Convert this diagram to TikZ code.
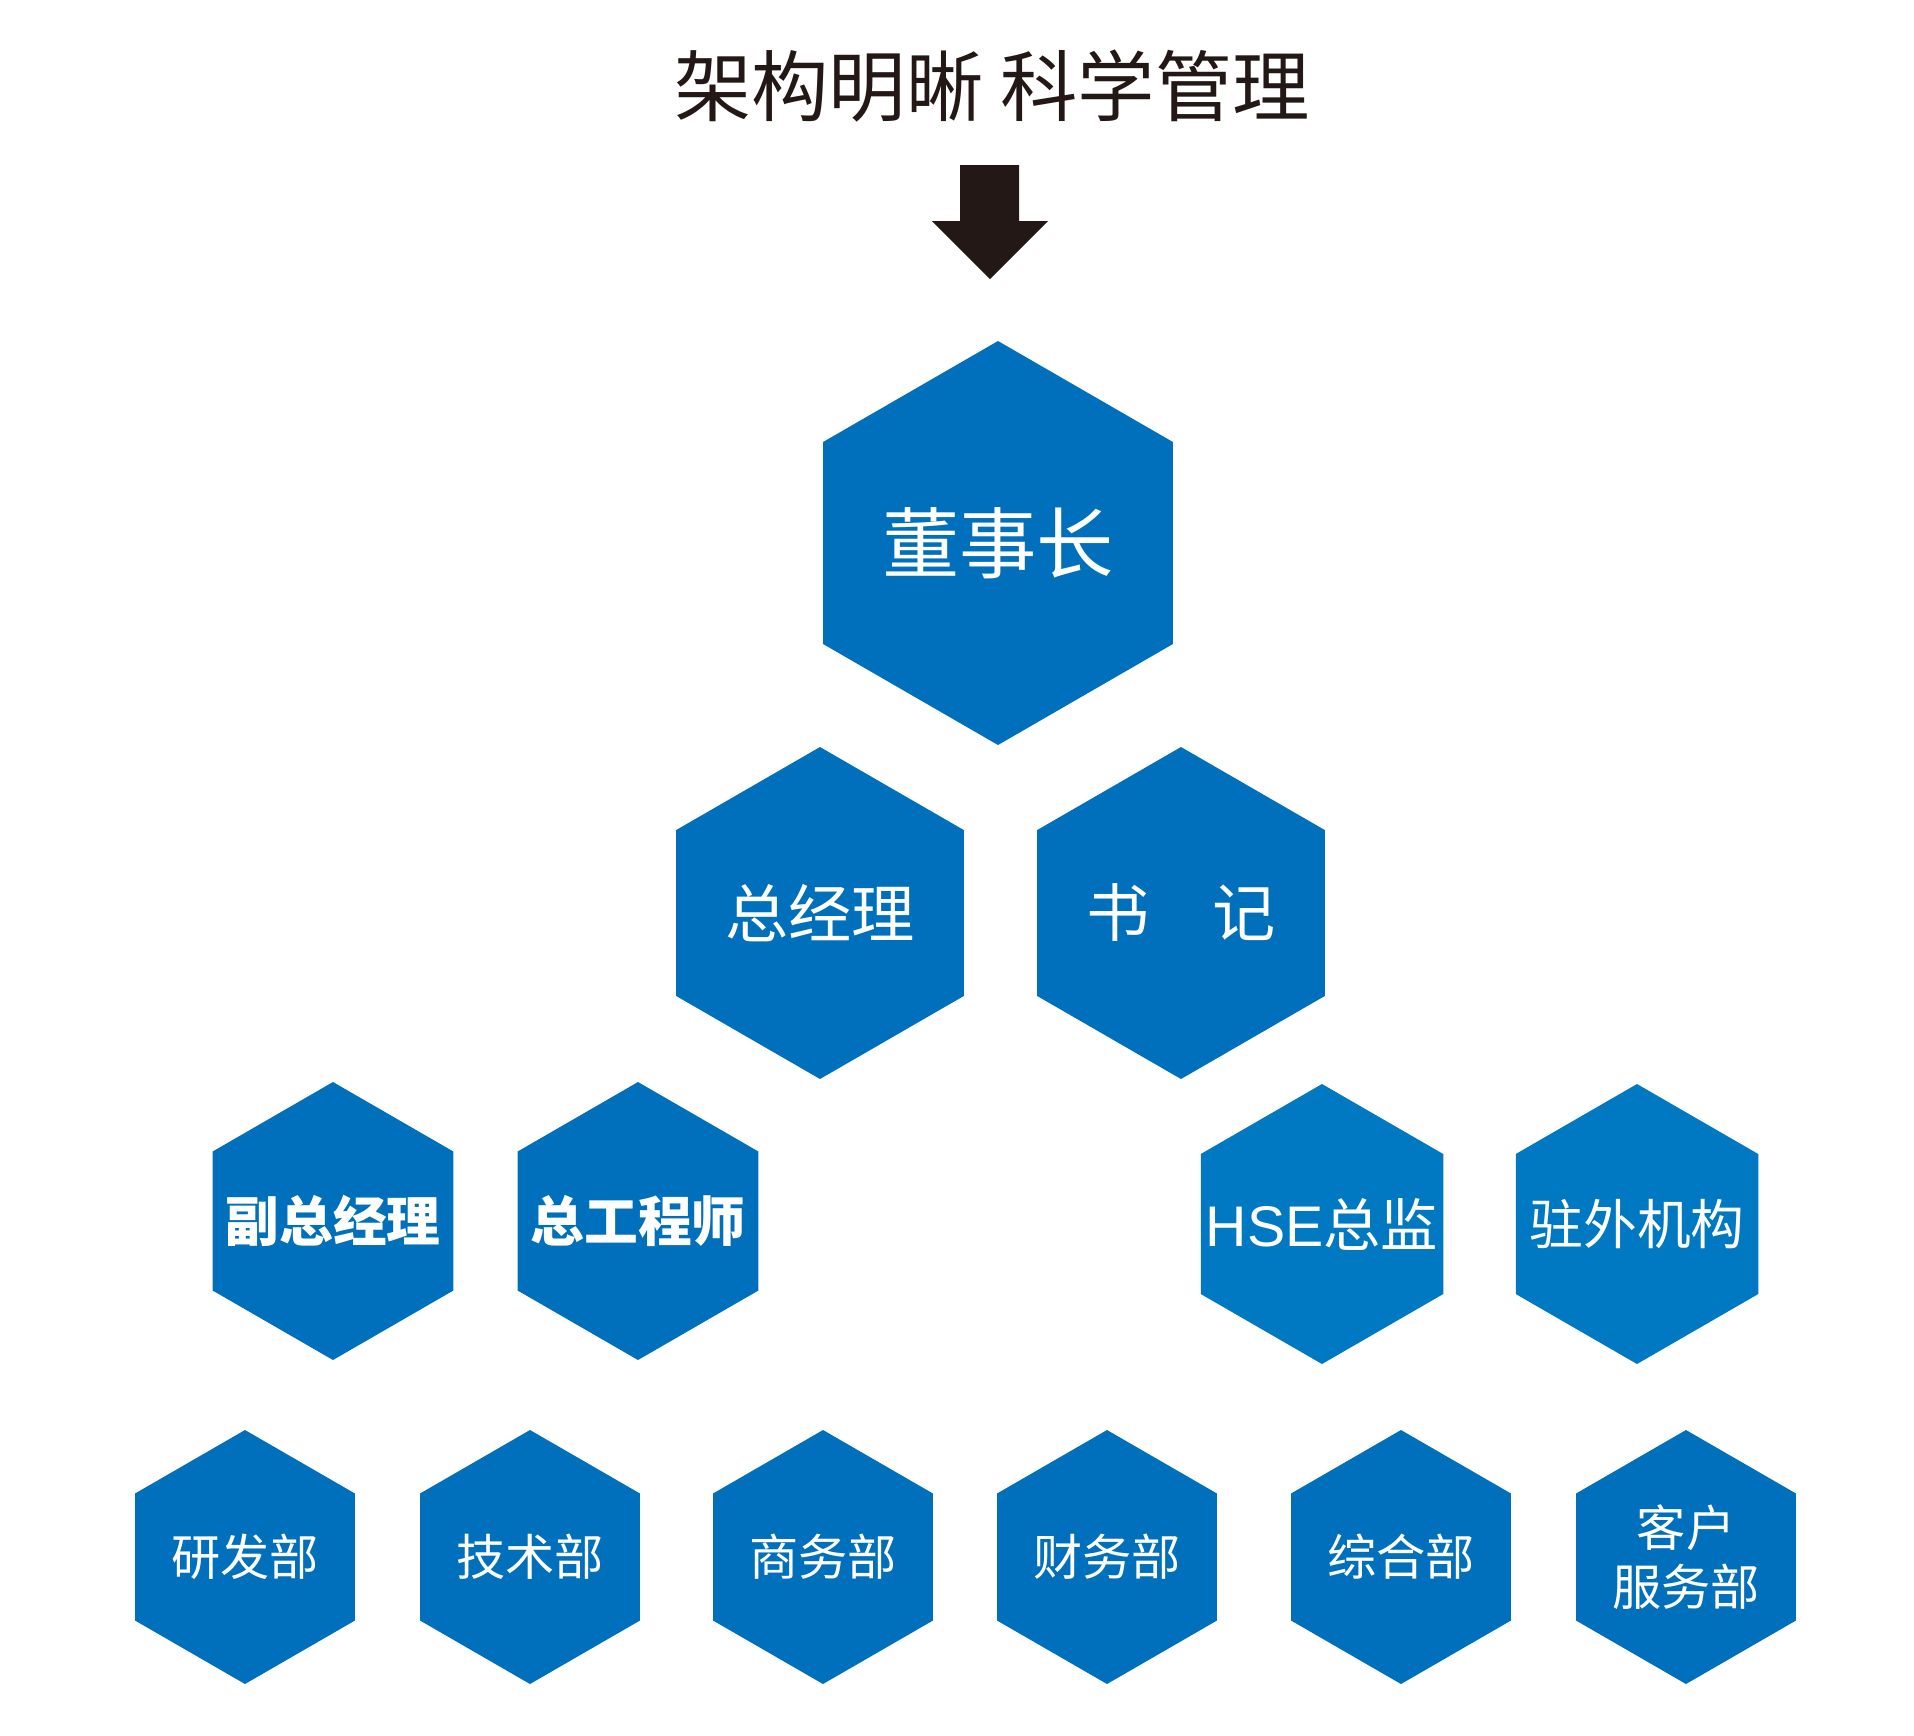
\documentclass[tikz,border=0pt]{standalone}
\usepackage{fontspec}
\setmainfont{Noto Sans CJK SC}
\newfontfamily\latinsans{Liberation Sans}
\usepackage{tikz}
\usetikzlibrary{backgrounds}
\usepackage{xcolor}
\definecolor{hexblue}{HTML}{0070BC}
\definecolor{hexlight}{HTML}{0079C2}
\definecolor{inkblack}{HTML}{231815}

\begin{document}
\begin{tikzpicture}[x=0.1mm,y=-0.1mm,
  hextext/.style={text=white,inner sep=0pt,align=center},
  toplevel/.style={hextext,font=\fontsize{22pt}{26pt}\selectfont},
  midlevel/.style={hextext,font=\fontsize{18pt}{22pt}\selectfont},
  sublevel/.style={hextext,font=\fontsize{15.3pt}{18pt}\selectfont},
  deptlevel/.style={hextext,font=\fontsize{14pt}{17pt}\selectfont}]
  \useasboundingbox (0,0) rectangle (1914,1735);

  \node[text=inkblack,inner sep=0pt,font=\fontsize{22pt}{26pt}\selectfont](title) at (992,86) {架构明晰 科学管理};
  \fill[inkblack] (960,165) -- (1019,165) -- (1019,221) -- (1048,221) -- (990,279) -- (932,221) -- (960,221) -- cycle;

  \node[toplevel](chairman) at (998,543) {董事长};
  \node[midlevel](gm) at (820,913) {总经理};
  \node[midlevel](secretary) at (1181,913) {书　记};
  \node[sublevel](vgm) at (333,1221) {\bfseries 副总经理};
  \node[sublevel](chiefeng) at (638,1221) {\bfseries 总工程师};
  \node[sublevel,font=\fontsize{16.3pt}{19pt}\selectfont](hse) at (1322,1224) {{\latinsans HSE}总监};
  \node[sublevel](overseas) at (1637,1224) {驻外机构};
  \node[deptlevel](rd) at (245,1557) {研发部};
  \node[deptlevel](tech) at (530,1557) {技术部};
  \node[deptlevel](biz) at (823,1557) {商务部};
  \node[deptlevel](finance) at (1107,1557) {财务部};
  \node[deptlevel](admin) at (1401,1557) {综合部};
  \node[deptlevel](service) at (1686,1557) {客户\\服务部};

  \begin{scope}[on background layer]
    \foreach \nm/\r/\c in {chairman/202/hexblue,gm/166/hexblue,secretary/166/hexblue,
        vgm/139/hexblue,chiefeng/139/hexblue,hse/140/hexlight,overseas/140/hexlight,
        rd/127/hexblue,tech/127/hexblue,biz/127/hexblue,finance/127/hexblue,
        admin/127/hexblue,service/127/hexblue}
      \fill[fill=\c] (\nm.center) +(90:\r) -- +(150:\r) -- +(210:\r) -- +(270:\r) -- +(330:\r) -- +(30:\r) -- cycle;
  \end{scope}
\end{tikzpicture}
\end{document}
